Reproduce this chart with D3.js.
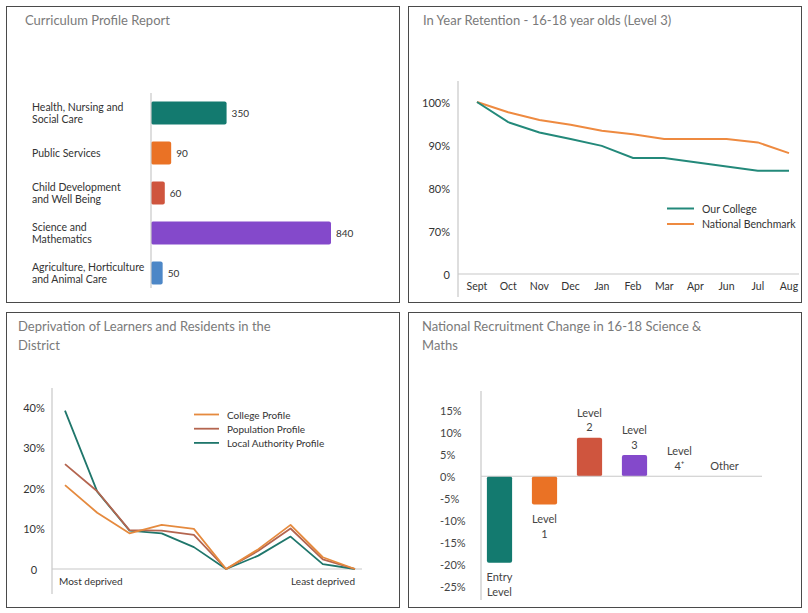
<!DOCTYPE html>
<html><head><meta charset="utf-8">
<script src="https://cdn.jsdelivr.net/npm/d3@7"></script>
<style>
body{margin:0;background:#fff}
svg{display:block}
text{font-family:Lato,"Open Sans",sans-serif}
</style>
</head><body>
<svg id="c" width="808" height="613"></svg>
<script>
// ---------- data ----------
const curriculumCategories = [["Health, Nursing and","Social Care"],["Public Services"],["Child Development","and Well Being"],["Science and","Mathematics"],["Agriculture, Horticulture","and Animal Care"]];
const curriculumValues = [350, 90, 60, 840, 50];
const curriculumColors = ["#137a6f","#ea7225","#cf553e","#8449cb","#4d87c7"];

const months = ["Sept","Oct","Nov","Dec","Jan","Feb","Mar","Apr","Jun","Jul","Aug"];
const ourCollege = [100, 95.3, 92.9, 91.4, 89.8, 87, 87, 86, 85, 84, 84];
const nationalBenchmark = [100, 97.6, 95.8, 94.7, 93.3, 92.5, 91.4, 91.4, 91.4, 90.6, 88.1];
const retentionTicks = [60, 70, 80, 90, 100];
const retentionTickLabels = ["0","70%","80%","90%","100%"];

const deprivationDeciles = [1,2,3,4,5,6,7,8,9,10];
const collegeProfile = [20.7, 13.9, 8.8, 10.9, 9.9, 0, 4.9, 10.9, 2.9, 0];
const populationProfile = [25.9, 19.2, 9.6, 9.5, 8.4, 0, 4.5, 10, 2.4, 0];
const localAuthorityProfile = [39.1, 19.1, 9.5, 8.8, 5.4, 0, 3.3, 8.0, 1.2, 0];
const deprivationTicks = [0, 10, 20, 30, 40];
const deprivationTickLabels = ["0","10%","20%","30%","40%"];

const levels = [["Entry","Level"],["Level","1"],["Level","2"],["Level","3"],["Level","4\u207A"],["Other"]];
const recruitmentChange = [-19.6, -6.4, 8.7, 4.8, 0, 0];
const recruitmentColors = ["#137a6f","#ea7225","#cf553e","#8449cb","#4d87c7","#4d87c7"];
const recruitmentTicks = [15, 10, 5, 0, -5, -10, -15, -20, -25];

// ---------- drawing ----------
const svg = d3.select("#c");
const titleColor = "#7a7a7a", textColor = "#333", axisColor = "#c8c8c8";

function panel(x, y, w, h, titleLines, tx) {
  svg.append("rect").attr("x", x + 0.5).attr("y", y + 0.5).attr("width", w).attr("height", h)
    .attr("fill", "#fff").attr("stroke", "#4a4a4a").attr("stroke-width", 1);
  titleLines.forEach((t, i) => {
    svg.append("text").attr("x", tx).attr("y", y + 14 + i * 19).attr("dominant-baseline", "central")
      .attr("font-size", 13).attr("fill", titleColor).text(t);
  });
}
function vline(x, y1, y2) { svg.append("line").attr("x1", x).attr("x2", x).attr("y1", y1).attr("y2", y2).attr("stroke", axisColor).attr("stroke-width", 1.2); }
function hline(y, x1, x2) { svg.append("line").attr("x1", x1).attr("x2", x2).attr("y1", y).attr("y2", y).attr("stroke", axisColor).attr("stroke-width", 1.2); }

// Panel 1
panel(6, 6, 393, 296, ["Curriculum Profile Report"], 25);
{
  const x = d3.scaleLinear().domain([0, 840]).range([152, 331]);
  const y = d3.scaleBand().domain(d3.range(curriculumValues.length)).range([93, 293]).paddingInner(0.43).paddingOuter(0.215);
  const g = svg.append("g");
  g.selectAll("rect.bar").data(curriculumValues).join("rect").attr("class", "bar")
    .attr("x", 151).attr("y", (d, i) => y(i)).attr("height", y.bandwidth())
    .attr("width", d => x(d) - 151).attr("rx", 2).attr("fill", (d, i) => curriculumColors[i]);
  vline(151, 93, 288);
  g.selectAll("text.val").data(curriculumValues).join("text").attr("class", "val")
    .attr("x", d => x(d) + 5).attr("y", (d, i) => y(i) + y.bandwidth() / 2)
    .attr("dominant-baseline", "central").attr("font-size", 10).attr("fill", textColor).text(d => d);
  curriculumCategories.forEach((lines, i) => {
    const c = y(i) + y.bandwidth() / 2;
    lines.forEach((l, j) => {
      g.append("text").attr("x", 32).attr("y", c + (j - (lines.length - 1) / 2) * 12)
        .attr("dominant-baseline", "central").attr("font-size", 10.5).attr("fill", textColor).text(l);
    });
  });
}

// Panel 2
panel(408, 6, 393, 296, ["In Year Retention - 16-18 year olds (Level 3)"], 423);
{
  svg.append("clipPath").attr("id", "clip2").append("rect").attr("x", 408).attr("y", 6).attr("width", 392).attr("height", 296);
  const g = svg.append("g").attr("clip-path", "url(#clip2)");
  const x = d3.scalePoint().domain(months).range([477, 789]);
  const y = d3.scaleLinear().domain([60, 100]).range([274, 102]);
  g.append("line").attr("x1", 458).attr("x2", 458).attr("y1", 81).attr("y2", 297).attr("stroke", axisColor).attr("stroke-width", 1.2);
  g.append("line").attr("x1", 458).attr("x2", 799).attr("y1", 274).attr("y2", 274).attr("stroke", axisColor).attr("stroke-width", 1.2);
  const line = d3.line().x((d, i) => x(months[i])).y(d => y(d));
  g.append("path").datum(nationalBenchmark).attr("d", line).attr("fill", "none").attr("stroke", "#ee8a40").attr("stroke-width", 2);
  g.append("path").datum(ourCollege).attr("d", line).attr("fill", "none").attr("stroke", "#23897a").attr("stroke-width", 2);
  g.selectAll("text.yt").data(retentionTicks).join("text").attr("class", "yt")
    .attr("x", 450).attr("y", d => y(d)).attr("text-anchor", "end").attr("dominant-baseline", "central")
    .attr("font-size", 11).attr("fill", textColor).text((d, i) => retentionTickLabels[i]);
  g.selectAll("text.xt").data(months).join("text").attr("class", "xt")
    .attr("x", d => x(d)).attr("y", 286).attr("text-anchor", "middle").attr("dominant-baseline", "central")
    .attr("font-size", 10.5).attr("fill", textColor).text(d => d);
  const leg = [["Our College", "#23897a"], ["National Benchmark", "#ee8a40"]];
  leg.forEach((l, i) => {
    const ly = 208.5 + i * 15.5;
    g.append("line").attr("x1", 667).attr("x2", 694).attr("y1", ly).attr("y2", ly).attr("stroke", l[1]).attr("stroke-width", 2);
    g.append("text").attr("x", 702).attr("y", ly).attr("dominant-baseline", "central").attr("font-size", 10.5).attr("fill", textColor).text(l[0]);
  });
}

// Panel 3
panel(6, 312, 393, 295, ["Deprivation of Learners and Residents in the", "District"], 18);
{
  const x = d3.scalePoint().domain(deprivationDeciles).range([65, 355]);
  const y = d3.scaleLinear().domain([0, 40]).range([569, 407]);
  vline(52, 388, 594);
  hline(569, 52, 362);
  const line = d3.line().x((d, i) => x(deprivationDeciles[i])).y(d => y(d));
  const series = [["College Profile", collegeProfile, "#e58a3e"], ["Population Profile", populationProfile, "#b4654f"], ["Local Authority Profile", localAuthorityProfile, "#1f766b"]];
  [series[2], series[1], series[0]].forEach(s => {
    svg.append("path").datum(s[1]).attr("d", line).attr("fill", "none").attr("stroke", s[2]).attr("stroke-width", 1.8).attr("stroke-linejoin", "round");
  });
  svg.selectAll("text.yt3").data(deprivationTicks).join("text").attr("class", "yt3")
    .attr("x", 34).attr("y", d => y(d)).attr("text-anchor", "middle").attr("dominant-baseline", "central")
    .attr("font-size", 11).attr("fill", textColor).text((d, i) => deprivationTickLabels[i]);
  svg.append("text").attr("x", 59).attr("y", 581).attr("dominant-baseline", "central").attr("font-size", 10).attr("fill", textColor).text("Most deprived");
  svg.append("text").attr("x", 355).attr("y", 581).attr("text-anchor", "end").attr("dominant-baseline", "central").attr("font-size", 10).attr("fill", textColor).text("Least deprived");
  series.forEach((s, i) => {
    const ly = 414.5 + i * 14.2;
    svg.append("line").attr("x1", 194).attr("x2", 219).attr("y1", ly).attr("y2", ly).attr("stroke", s[2]).attr("stroke-width", 1.8);
    svg.append("text").attr("x", 227).attr("y", ly).attr("dominant-baseline", "central").attr("font-size", 10).attr("fill", textColor).text(s[0]);
  });
}

// Panel 4
panel(408, 312, 393, 295, ["National Recruitment Change in 16-18 Science &", "Maths"], 422);
{
  const x = d3.scaleBand().domain(d3.range(levels.length)).range([477, 747]).paddingInner(0.44).paddingOuter(0.22);
  const y = d3.scaleLinear().domain([-25, 15]).range([586.7, 410]);
  svg.selectAll("rect.rb").data(recruitmentChange).join("rect").attr("class", "rb")
    .attr("x", (d, i) => x(i)).attr("width", x.bandwidth())
    .attr("y", d => Math.min(y(d), y(0))).attr("height", d => Math.abs(y(d) - y(0)))
    .attr("rx", 2).attr("fill", (d, i) => recruitmentColors[i]);
  vline(481, 391, 600);
  hline(y(0), 481, 762);
  svg.selectAll("text.yt4").data(recruitmentTicks).join("text").attr("class", "yt4")
    .attr("x", 440).attr("y", d => y(d)).attr("dominant-baseline", "central")
    .attr("font-size", 11).attr("fill", "#444").text(d => d + "%");
  levels.forEach((lines, i) => {
    const v = recruitmentChange[i];
    const cx = x(i) + x.bandwidth() / 2;
    lines.forEach((l, j) => {
      let ly;
      if (v < 0) ly = y(v) + 14 + j * 14.5;
      else ly = y(v) - 11 - (lines.length - 1 - j) * 14.5;
      svg.append("text").attr("x", cx).attr("y", ly).attr("text-anchor", "middle").attr("dominant-baseline", "central")
        .attr("font-size", 11).attr("fill", "#444").text(l);
    });
  });
}
</script>
</body></html>
